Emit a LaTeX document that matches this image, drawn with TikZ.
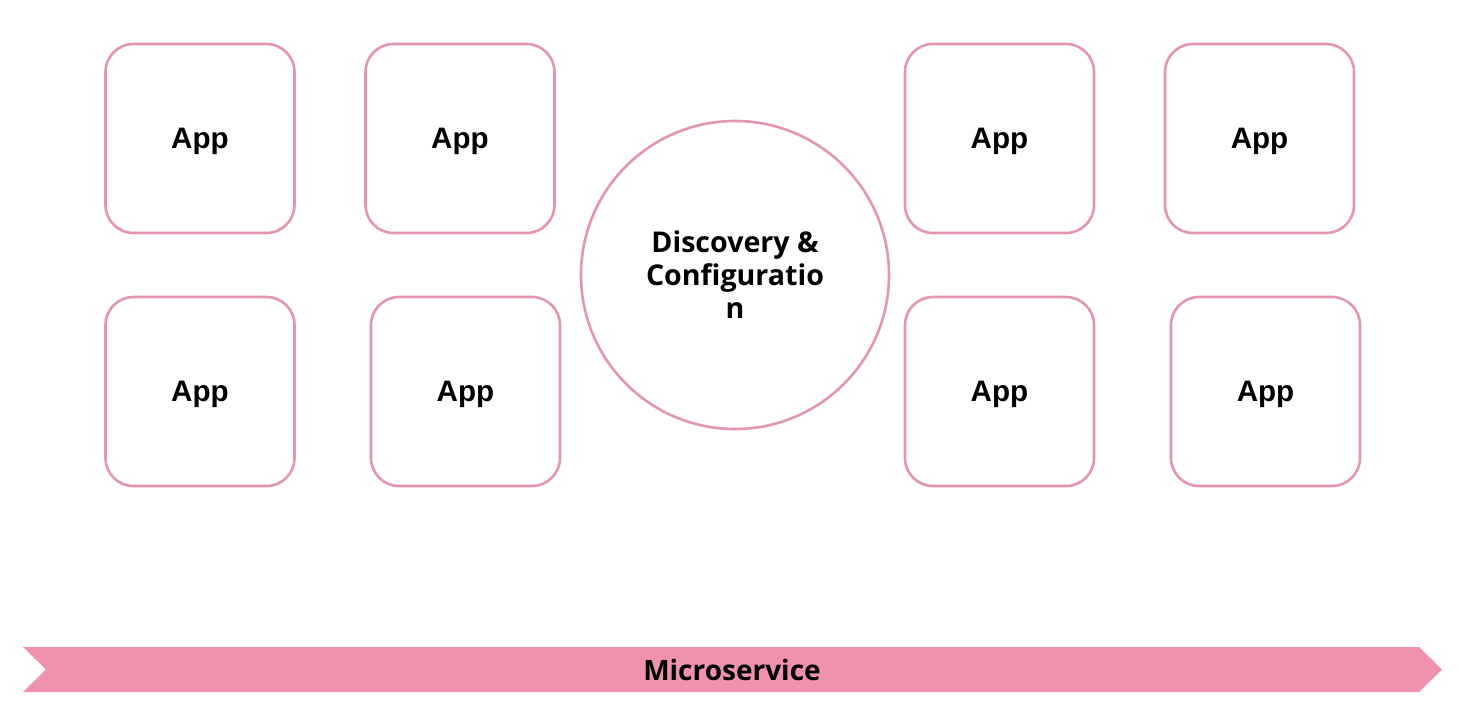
\documentclass[tikz,border=0pt]{standalone}
\usepackage{fontspec}
\setmainfont{Open Sans}
\newfontfamily\appfont{Liberation Sans}
\usetikzlibrary{positioning}
\definecolor{appedge}{HTML}{E396AE}
\definecolor{bandpink}{HTML}{F092AD}
\tikzset{appbox/.style = {draw = appedge, line width = 1.3pt, rounded corners = 14pt,
    minimum width = 94.5pt, minimum height = 94.5pt, inner sep = 0, text depth = 0pt,
    font = \appfont\bfseries\fontsize{14.8}{17}\selectfont}}
\tikzset{hub/.style = {draw = appedge, line width = 1.3pt, circle, minimum size = 154pt,
    inner sep = 0, align = center, font = \bfseries\fontsize{14.3}{16.5}\selectfont}}

\begin{document}
\begin{tikzpicture}[x=0.5pt, y=-0.5pt]
    \useasboundingbox[fill=white] (0,0) rectangle (1460,708);
    % app boxes
    \foreach \n/\x/\y in {1/200/138.5, 2/460/138.5, 3/999.5/138.5, 4/1259.5/138.5,
                          5/200/391.5, 6/465.5/391.5, 7/999.5/391.5, 8/1265.5/391.5} {
        \node[appbox] (app\n) at (\x,\y) {App};
    }
    % centre
    \node[hub] (disco) at (735,275) {Discovery \&\\Configuratio\\n};
    % banner
    \coordinate (b1) at (23,647);
    \coordinate (b2) at (1419,647);
    \coordinate (b3) at (1442,669.5);
    \coordinate (b4) at (1419,692);
    \coordinate (b5) at (23,692);
    \coordinate (b6) at (46,669.5);
    \fill[bandpink] (b1) -- (b2) -- (b3) -- (b4) -- (b5) -- (b6) -- cycle;
    \node[font=\bfseries\fontsize{14}{16}\selectfont] (micro) at (732,670) {Microservice};
\end{tikzpicture}
\end{document}
